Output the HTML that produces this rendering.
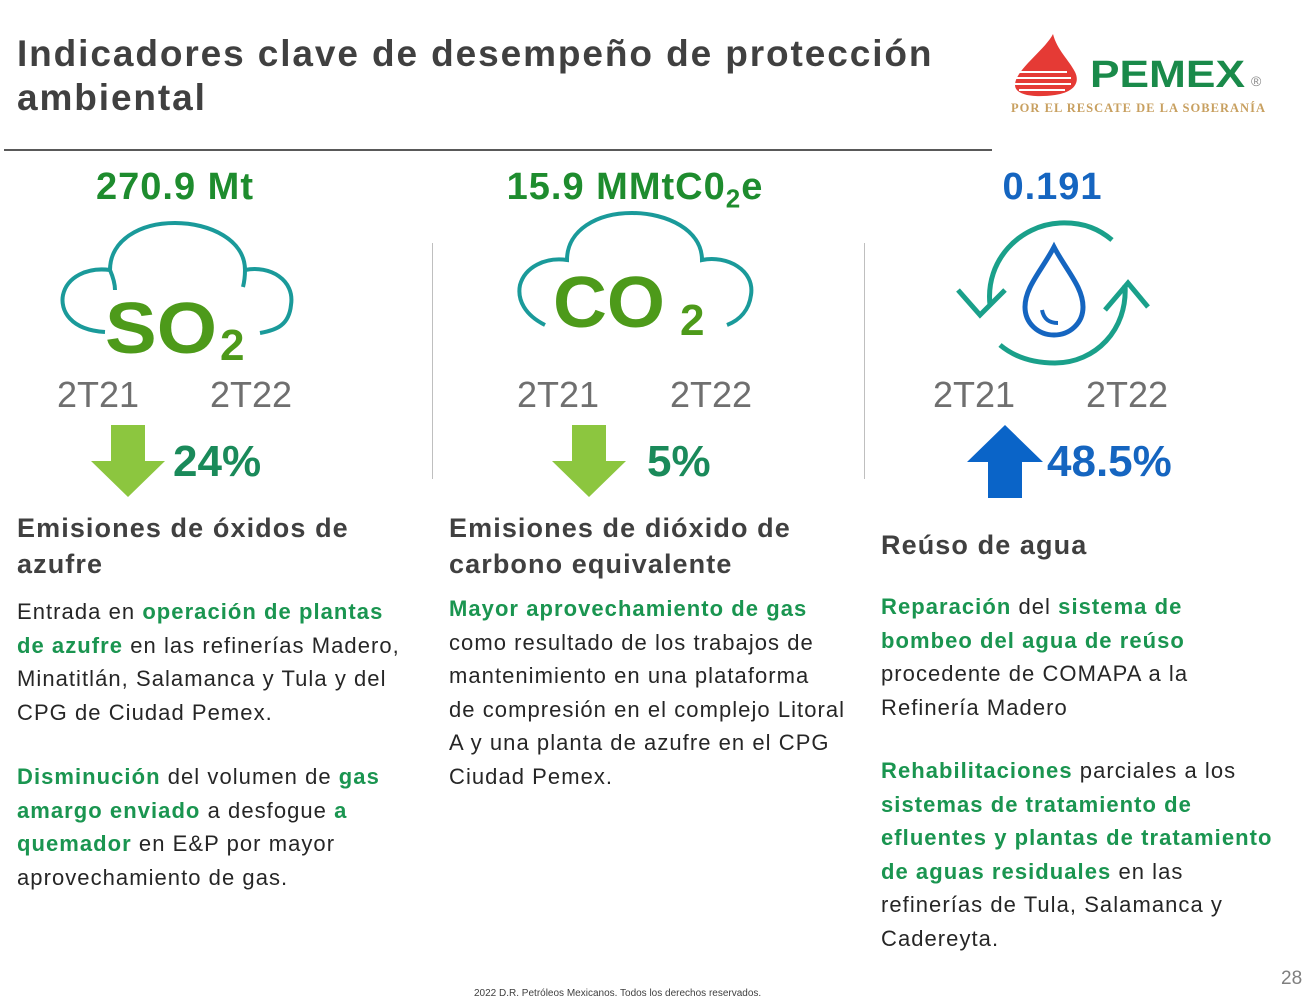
<!DOCTYPE html>
<html><head><meta charset="utf-8"><style>
*{margin:0;padding:0;box-sizing:border-box}
body{width:1314px;height:998px;background:#fff;position:relative;overflow:hidden;font-family:"Liberation Sans",sans-serif;color:#262626}
.a{position:absolute}
.t{font-weight:bold;color:#404040;font-size:37px;line-height:44px;left:17px;top:32px;letter-spacing:1.9px;white-space:nowrap}
.big{font-weight:bold;font-size:38px;text-align:center;letter-spacing:1px;white-space:nowrap}
.yr{font-size:36px;color:#6f6f6f}
.pct{font-weight:bold;font-size:44px;color:#1a8a5a}
.h{font-weight:bold;font-size:27px;color:#404040;line-height:36px;letter-spacing:1.1px;white-space:nowrap}
.b{font-size:22px;line-height:33.5px;color:#262626;white-space:nowrap;letter-spacing:1.05px}
.g{color:#1a9550;font-weight:bold}
.sep{width:1px;background:#bfbfbf}
</style></head><body>
<div class="a t">Indicadores clave de desempeño de protección<br>ambiental</div>
<div class="a" style="left:4px;top:149px;width:988px;height:2px;background:#595959"></div>
<svg class="a" style="left:1005px;top:30px" width="300" height="95">
<path d="M48 4 C40 20 10 40 10 55 C10 65 28 68 50 65 C70 62 75 52 70 42 C64 30 52 20 48 4Z" fill="#e53a35"/>
<g stroke="#fff" stroke-width="2"><line x1="10" y1="42" x2="62" y2="42"/><line x1="10" y1="48" x2="66" y2="48"/><line x1="10" y1="54" x2="66" y2="54"/><line x1="14" y1="60" x2="60" y2="60"/></g>
<text x="85" y="57" font-family="Liberation Sans" font-weight="bold" font-size="38" fill="#1a8a4a" textLength="155" lengthAdjust="spacingAndGlyphs">PEMEX</text>
<text x="246" y="56" font-family="Liberation Sans" font-size="14" fill="#888">®</text>
<text x="6" y="82" font-family="Liberation Serif" font-weight="bold" font-size="12.5" fill="#c8a060" textLength="254" lengthAdjust="spacing">POR EL RESCATE DE LA SOBERANÍA</text>
</svg>
<div class="a sep" style="left:432px;top:243px;height:236px"></div>
<div class="a sep" style="left:864px;top:243px;height:236px"></div>

<!-- Column 1 -->
<div class="a big" style="left:60px;width:230px;top:166px;color:#1e8c2e">270.9 Mt</div>
<svg class="a" style="left:55px;top:215px" width="245" height="150">
<path d="M50 117 C15 115 5 95 8 80 C12 62 32 52 55 55 C55 25 85 8 120 8 C155 8 190 25 190 55 C215 50 240 65 236 90 C234 110 222 115 205 118" fill="none" stroke="#1a9a9a" stroke-width="4"/>
<path d="M55 55 C58 62 60 70 60 75 M190 55 C190 62 189 68 188 72" fill="none" stroke="#1a9a9a" stroke-width="4"/>
<text x="50" y="138" font-family="Liberation Sans" font-weight="bold" font-size="72" fill="#4d9a1a" textLength="112" lengthAdjust="spacingAndGlyphs">SO</text>
<text x="165" y="145" font-family="Liberation Sans" font-weight="bold" font-size="44" fill="#4d9a1a">2</text>
</svg>
<div class="a yr" style="left:57px;top:374px">2T21</div>
<div class="a yr" style="left:210px;top:374px">2T22</div>
<svg class="a" style="left:89px;top:425px" width="78" height="74"><path d="M22 0H56V36H76L39 72L2 36H22Z" fill="#8cc63f"/></svg>
<div class="a pct" style="left:173px;top:437px">24%</div>
<div class="a h" style="left:17px;top:510px">Emisiones de óxidos de<br>azufre</div>
<div class="a b" style="left:17px;top:595px">Entrada en <span class="g">operación de plantas</span><br><span class="g">de azufre</span> en las refinerías Madero,<br>Minatitlán, Salamanca y Tula y del<br>CPG de Ciudad Pemex.</div>
<div class="a b" style="left:17px;top:760px"><span class="g">Disminución</span> del volumen de <span class="g">gas</span><br><span class="g">amargo enviado</span> a desfogue <span class="g">a</span><br><span class="g">quemador</span> en E&amp;P por mayor<br>aprovechamiento de gas.</div>

<!-- Column 2 -->
<div class="a big" style="left:480px;width:310px;top:166px;color:#1e8c2e">15.9 MMtC0<sub style="font-size:26px">2</sub>e</div>
<svg class="a" style="left:515px;top:205px" width="245" height="140">
<path d="M30 120 C10 110 2 95 5 80 C10 62 30 52 52 55 C52 25 82 8 117 8 C152 8 187 25 187 55 C212 50 240 65 236 90 C234 105 225 115 212 120" fill="none" stroke="#1a9a9a" stroke-width="4"/>
<text x="38" y="122" font-family="Liberation Sans" font-weight="bold" font-size="72" fill="#4d9a1a" textLength="112" lengthAdjust="spacingAndGlyphs">CO</text>
<text x="165" y="130" font-family="Liberation Sans" font-weight="bold" font-size="44" fill="#4d9a1a">2</text>
</svg>
<div class="a yr" style="left:517px;top:374px">2T21</div>
<div class="a yr" style="left:670px;top:374px">2T22</div>
<svg class="a" style="left:550px;top:425px" width="78" height="74"><path d="M22 0H56V36H76L39 72L2 36H22Z" fill="#8cc63f"/></svg>
<div class="a pct" style="left:647px;top:437px">5%</div>
<div class="a h" style="left:449px;top:510px">Emisiones de dióxido de<br>carbono equivalente</div>
<div class="a b" style="left:449px;top:592px"><span class="g">Mayor aprovechamiento de gas</span><br>como resultado de los trabajos de<br>mantenimiento en una plataforma<br>de compresión en el complejo Litoral<br>A y una planta de azufre en el CPG<br>Ciudad Pemex.</div>

<!-- Column 3 -->
<div class="a big" style="left:950px;width:205px;top:166px;color:#1565c0">0.191</div>
<svg class="a" style="left:950px;top:215px" width="205" height="155">
<path d="M40 90 C35 45 70 10 110 8 C135 7 150 15 162 25" fill="none" stroke="#1aa08a" stroke-width="5"/>
<path d="M8 75 L30 100 L55 75" fill="none" stroke="#1aa08a" stroke-width="5"/>
<path d="M175 70 C178 115 145 148 105 148 C80 148 62 140 50 130" fill="none" stroke="#1aa08a" stroke-width="5"/>
<path d="M155 95 L178 68 L198 92" fill="none" stroke="#1aa08a" stroke-width="5"/>
<path d="M104 32 C92 55 75 72 75 92 C75 108 88 120 104 120 C120 120 133 108 133 92 C133 72 116 55 104 32Z" fill="none" stroke="#1565c0" stroke-width="5"/>
<path d="M92 95 C94 105 100 108 108 108" fill="none" stroke="#1565c0" stroke-width="4"/>
</svg>
<div class="a yr" style="left:933px;top:374px">2T21</div>
<div class="a yr" style="left:1086px;top:374px">2T22</div>
<svg class="a" style="left:965px;top:424px" width="80" height="74"><path d="M23 74H57V38H78L40 1L2 38H23Z" fill="#0a64c8"/></svg>
<div class="a pct" style="left:1047px;top:437px;color:#1565c0">48.5%</div>
<div class="a h" style="left:881px;top:527px">Reúso de agua</div>
<div class="a b" style="left:881px;top:590px"><span class="g">Reparación</span> del <span class="g">sistema de</span><br><span class="g">bombeo del agua de reúso</span><br>procedente de COMAPA a la<br>Refinería Madero</div>
<div class="a b" style="left:881px;top:754px"><span class="g">Rehabilitaciones</span> parciales a los<br><span class="g">sistemas de tratamiento de</span><br><span class="g">efluentes y plantas de tratamiento</span><br><span class="g">de aguas residuales</span> en las<br>refinerías de Tula, Salamanca y<br>Cadereyta.</div>

<div class="a" style="left:474px;top:988px;font-size:10px;color:#404040">2022 D.R. Petróleos Mexicanos. Todos los derechos reservados.</div>
<div class="a" style="left:1281px;top:968px;font-size:19px;color:#7f7f7f">28</div>
</body></html>
